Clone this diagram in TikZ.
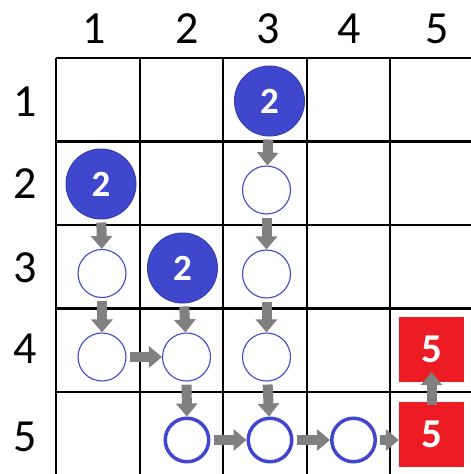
\documentclass[tikz,border=0pt]{standalone}
\usepackage{fontspec}
\setmainfont{Carlito}
\usetikzlibrary{arrows.meta}
\definecolor{dotblue}{RGB}{63,72,204}
\definecolor{boxred}{RGB}{237,28,36}
\definecolor{flowgray}{RGB}{128,128,128}
\tikzset{
  srcdot/.style={circle,fill=dotblue,draw=dotblue!85!black,line width=1pt,minimum size=70pt,inner sep=0pt,
    text=white,font=\bfseries\fontsize{37}{37}\selectfont},
  pathdot/.style={circle,draw=dotblue,line width=1.1pt,minimum size=48pt,inner sep=0pt},
  pathdotbold/.style={pathdot,line width=3.5pt,minimum size=43.5pt},
  goalbox/.style={rectangle,fill=boxred,minimum size=65pt,inner sep=0pt,
    text=white,font=\bfseries\fontsize{41}{41}\selectfont},
  flow/.style={-{Triangle[width=21pt,length=13pt]},line width=10pt,flowgray,shorten <=3pt},
  idx/.style={font=\fontsize{46}{46}\selectfont}
}
\begin{document}
\begin{tikzpicture}[x=1pt,y=-1pt,line join=round]
  \useasboundingbox (0,0) rectangle (471,474);
  % grid
  \foreach \x in {56,140,223,307,390} {\draw[line width=2.2pt] (\x,58) -- (\x,474);}
  \foreach \y in {58,141.5,225,308.5,392} {\draw[line width=2.2pt] (56,\y) -- (471,\y);}
  % indices
  \foreach \n/\x in {1/94,2/187,3/268,4/349,5/437} {\node[idx] (col\n) at (\x,29) {\n};}
  \foreach \n/\y in {1/102,2/184,3/268,4/349,5/437} {\node[idx] (row\n) at (25,\y) {\n};}
  % starts
  \node[srcdot] (s13) at (269.5,101) {2};
  \node[srcdot] (s21) at (101,184) {2};
  \node[srcdot] (s32) at (182.5,268) {2};
  % visited cells
  \node[pathdot] (c23) at (266.5,190) {};
  \node[pathdot] (c33) at (266.5,274) {};
  \node[pathdot] (c43) at (266.5,357) {};
  \node[pathdot] (c31) at (102,273.5) {};
  \node[pathdot] (c41) at (102,357) {};
  \node[pathdot] (c42) at (186.5,357) {};
  \node[pathdotbold] (c52) at (187,440) {};
  \node[pathdotbold] (c53) at (270,440) {};
  \node[pathdotbold] (c54) at (353.5,440) {};
  % goals
  \node[goalbox] (g45) at (431.5,349.5) {5};
  \node[goalbox] (g55) at (431.5,434.5) {5};
  % moves
  \draw[flow] (s13) -- (c23);
  \draw[flow] (c23) -- (c33);
  \draw[flow] (c33) -- (c43);
  \draw[flow] (c43) -- (c53);
  \draw[flow] (s21) -- (c31);
  \draw[flow] (c31) -- (c41);
  \draw[flow] (c41) -- (c42);
  \draw[flow] (s32) -- (c42);
  \draw[flow] (c42) -- (c52);
  \draw[flow] (c52) -- (c53);
  \draw[flow] (c53) -- (c54);
  \draw[flow] (c54) -- (c54 -| g55.west);
  \draw[flow,shorten <=-3pt,shorten >=-10pt] (g55) -- (g45);
\end{tikzpicture}
\end{document}
